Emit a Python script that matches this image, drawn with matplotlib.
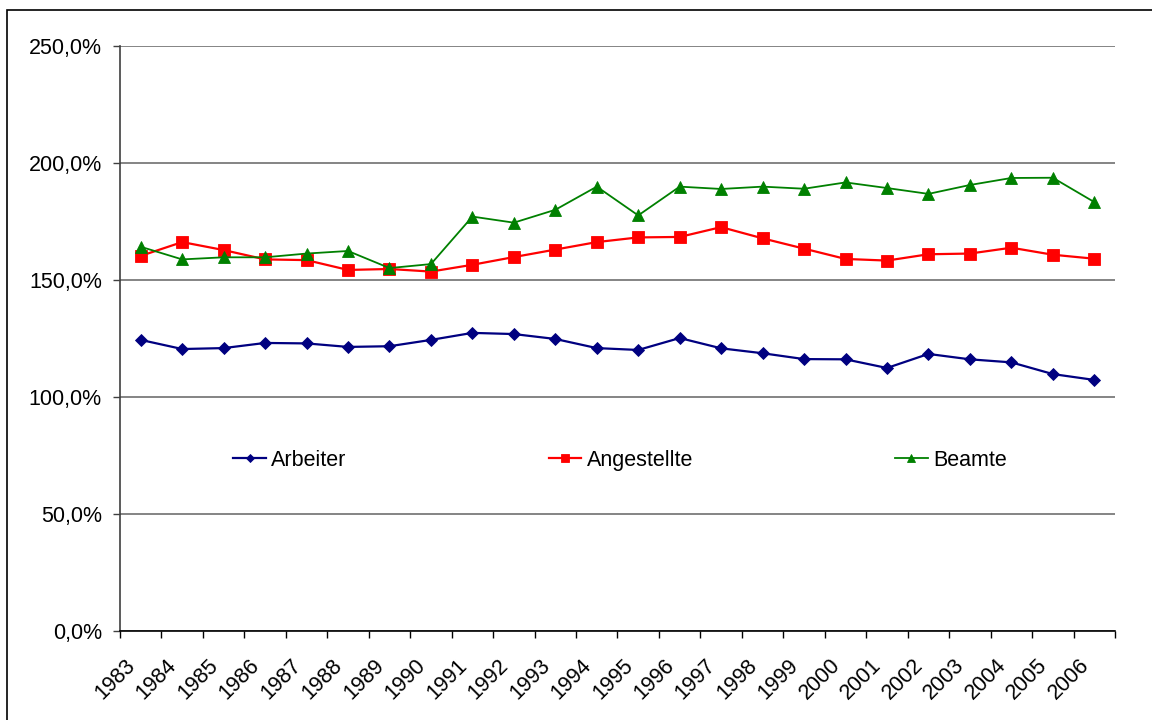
import matplotlib
matplotlib.use("Agg")
import matplotlib.pyplot as plt
from matplotlib.patches import Rectangle
from matplotlib.ticker import FixedLocator, FuncFormatter
from matplotlib.transforms import ScaledTranslation
import numpy as np

plt.rcParams["font.family"] = ["Liberation Sans", "DejaVu Sans"]

YEARS = [str(y) for y in range(1983, 2007)]

ARBEITER = [124.4, 120.5, 120.9, 123.1, 122.9, 121.4, 121.7, 124.4, 127.4, 126.9,
            124.8, 120.9, 120.1, 125.2, 120.8, 118.7, 116.2, 116.1, 112.4, 118.4,
            116.1, 114.8, 109.8, 107.3]
ANGESTELLTE = [160.3, 166.2, 162.8, 158.8, 158.5, 154.3, 154.7, 153.6, 156.5, 159.8,
               163.0, 166.2, 168.2, 168.4, 172.6, 167.8, 163.4, 159.0, 158.3, 161.0,
               161.3, 163.8, 160.8, 159.1]
BEAMTE = [164.2, 158.8, 159.7, 159.7, 161.3, 162.4, 155.1, 156.8, 177.1, 174.5,
          180.0, 189.9, 177.6, 189.9, 188.9, 189.9, 189.0, 191.7, 189.3, 186.8,
          190.6, 193.6, 193.7, 183.3]

SERIES = [
    ("Arbeiter", ARBEITER, "#000080", "D", 6.5, 1.6),
    ("Angestellte", ANGESTELLTE, "#ff0000", "s", 8, 1.6),
    ("Beamte", BEAMTE, "#008000", "^", 8, 1.3),
]

FS = 15.5

fig = plt.figure(figsize=(11.52, 7.2), dpi=100)
ax = fig.add_axes([120 / 1152, 1 - 631 / 720, 995 / 1152, 585 / 720])

# outer chart frame
fig.patches.append(Rectangle((7 / 1152, -0.1), 1.2, 1 - 10 / 720 + 0.1,
                             transform=fig.transFigure, fill=False,
                             edgecolor="black", linewidth=1.2, zorder=0))

x = np.arange(len(YEARS))
for name, vals, color, marker, ms, lw in SERIES:
    ax.plot(x, vals, color=color, marker=marker, markersize=ms, linewidth=lw,
            markeredgewidth=0.6, label=name, zorder=3)

ax.set_xlim(-0.5, len(YEARS) - 0.5)
ax.set_ylim(0, 250)

ax.yaxis.set_major_locator(FixedLocator(np.arange(0, 251, 50)))
ax.yaxis.set_major_formatter(FuncFormatter(lambda v, _: f"{v:.1f}%".replace(".", ",")))
ax.grid(axis="y", color="#707070", linewidth=1.2, zorder=1)

# boundary ticks between categories, labels at the category centers
ax.xaxis.set_major_locator(FixedLocator(np.arange(-0.5, len(YEARS), 1.0)))
ax.xaxis.set_major_formatter(FuncFormatter(lambda v, _: ""))
ax.xaxis.set_minor_locator(FixedLocator(x))
ax.set_xticklabels(YEARS, minor=True)
ax.tick_params(axis="x", which="major", direction="out", length=5, width=1, color="black")
ax.tick_params(axis="x", which="minor", length=0, pad=17, labelsize=FS)
shift = ScaledTranslation(-16 / 100, 0, fig.dpi_scale_trans)
for lab in ax.get_xticklabels(minor=True):
    lab.set_rotation(45)
    lab.set_ha("right")
    lab.set_va("top")
    lab.set_rotation_mode("anchor")
    lab.set_transform(lab.get_transform() + shift)

ax.tick_params(axis="y", direction="out", length=5, width=1, color="#404040",
               pad=8, labelsize=FS)

for side in ("top", "right"):
    ax.spines[side].set_visible(False)
ax.spines["left"].set_color("#404040")
ax.spines["left"].set_linewidth(1.2)
ax.spines["bottom"].set_color("black")
ax.spines["bottom"].set_linewidth(1.2)

ax.legend(loc="center left", bbox_to_anchor=(0.114, 0.292), ncol=3, frameon=False,
          fontsize=FS, handlelength=1.5, handletextpad=0.25, columnspacing=9.4,
          markerscale=0.7, borderaxespad=0, borderpad=0)

fig.savefig("out.png", dpi=100)
